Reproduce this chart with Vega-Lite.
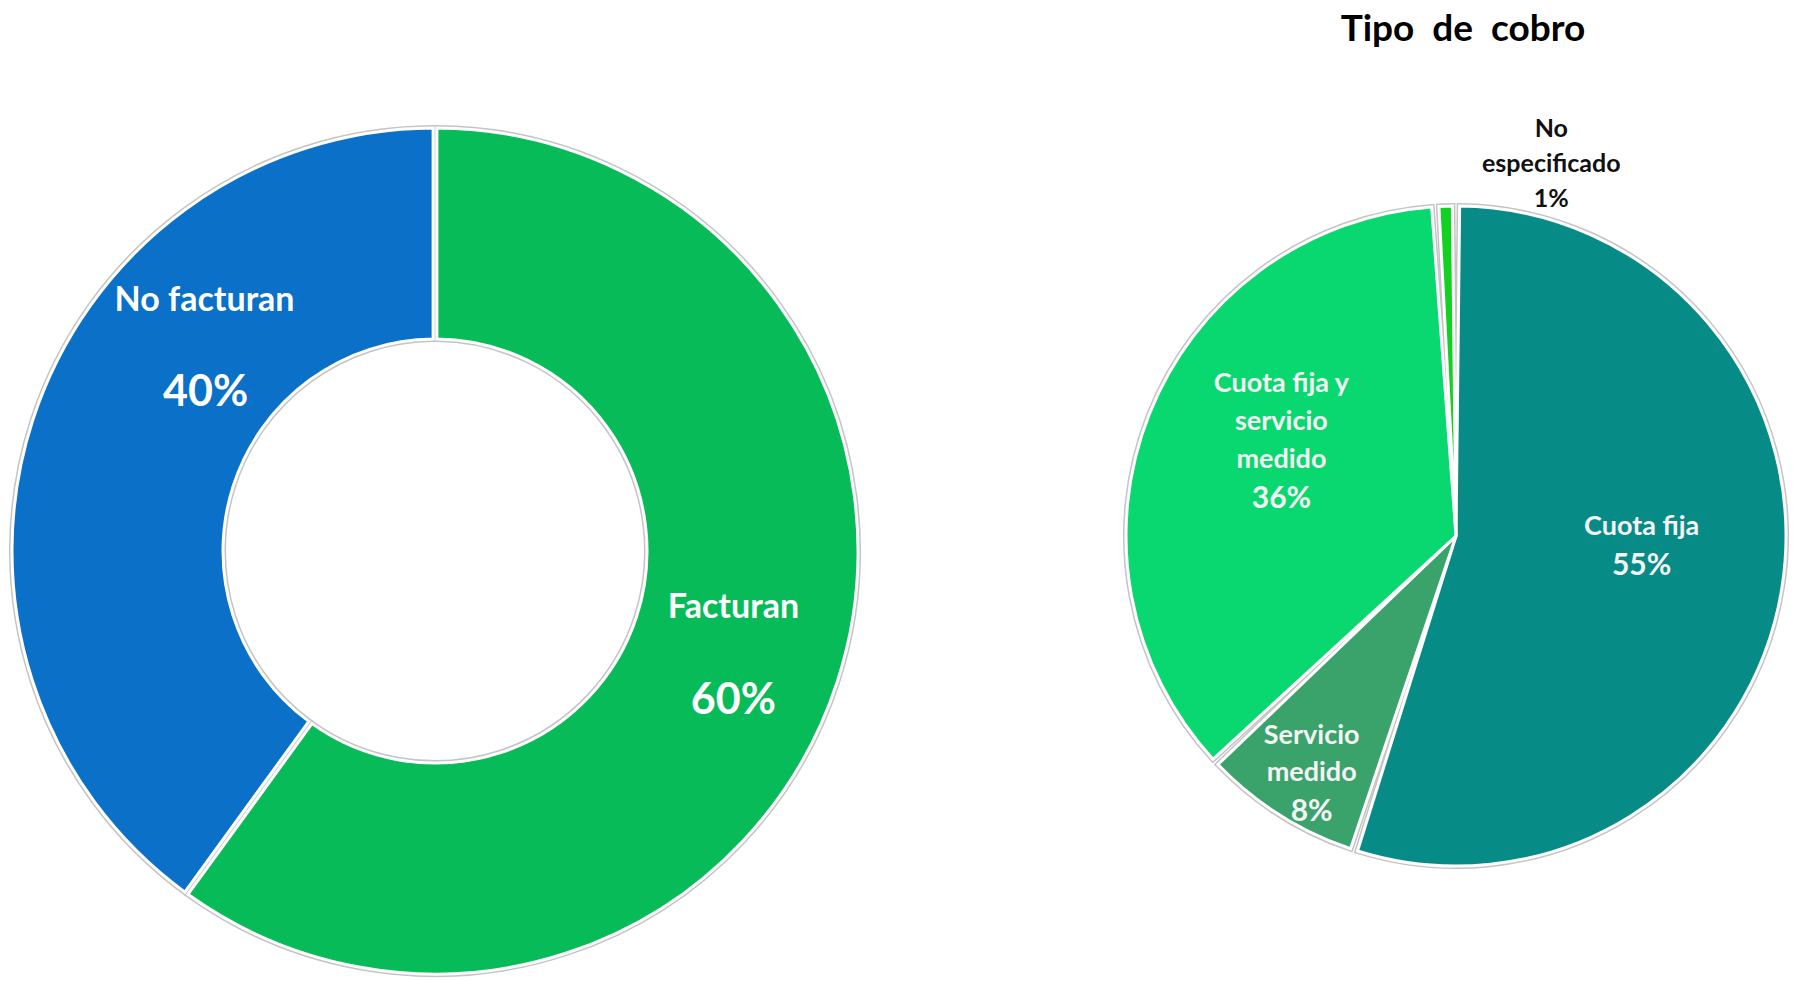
{
  "$schema": "https://vega.github.io/schema/vega-lite/v6.json",
  "padding": {"top": 10, "left": 0, "right": 0, "bottom": 0},
  "background": "#ffffff",
  "spacing": 240,
  "resolve": {"scale": {"color": "independent", "theta": "independent"}},
  "config": {"view": {"stroke": null}, "font": "Lato"},
  "datasets": {
    "facturacion": [
      {"grupo": "Facturan", "valor": 0.60, "orden": 1},
      {"grupo": "No facturan", "valor": 0.40, "orden": 2}
    ],
    "cobro": [
      {"tipo": "Cuota fija", "valor": 0.55, "orden": 1, "etiqueta": "Cuota fija"},
      {"tipo": "Servicio medido", "valor": 0.08, "orden": 2, "etiqueta": "Servicio\nmedido"},
      {"tipo": "Cuota fija y servicio medido", "valor": 0.36, "orden": 3, "etiqueta": "Cuota fija y\nservicio\nmedido"},
      {"tipo": "No especificado", "valor": 0.01, "orden": 4, "etiqueta": "No\nespecificado"}
    ]
  },
  "hconcat": [
    {
      "width": 860,
      "height": 866,
      "title": {"text": " ", "fontSize": 37, "offset": 68},
      "data": {"name": "facturacion"},
      "encoding": {
        "theta": {"field": "valor", "type": "quantitative", "stack": true},
        "order": {"field": "orden", "type": "quantitative"}
      },
      "layer": [
        {
          "mark": {"type": "arc", "outerRadius": 423, "innerRadius": 212, "padAngle": 0.008, "stroke": "#c4c4c4", "strokeWidth": 6},
          "encoding": {"color": {"field": "grupo", "type": "nominal", "scale": {"domain": ["Facturan", "No facturan"], "range": ["#07BC58", "#0A70C8"]}, "legend": null}}
        },
        {
          "mark": {"type": "arc", "outerRadius": 423, "innerRadius": 212, "padAngle": 0.008, "stroke": "#ffffff", "strokeWidth": 3},
          "encoding": {"color": {"field": "grupo", "type": "nominal", "legend": null}}
        },
        {
          "mark": {"type": "text", "radius": 318, "dx": -4, "dy": -41, "fontSize": 34, "fontWeight": "bold", "color": "#ffffff", "align": "center", "baseline": "middle"},
          "encoding": {"detail": {"field": "grupo"}, "text": {"condition": {"test": "datum.grupo === 'Facturan'", "field": "grupo"}, "value": ""}}
        },
        {
          "mark": {"type": "text", "radius": 318, "dx": -4, "dy": 52, "fontSize": 43, "fontWeight": "bold", "color": "#ffffff", "align": "center", "baseline": "middle"},
          "encoding": {"detail": {"field": "grupo"}, "text": {"condition": {"test": "datum.grupo === 'Facturan'", "field": "valor", "type": "quantitative", "format": ".0%"}, "value": ""}}
        },
        {
          "mark": {"type": "text", "radius": 318, "dx": 72, "dy": -152, "fontSize": 34, "fontWeight": "bold", "color": "#ffffff", "align": "center", "baseline": "middle"},
          "encoding": {"detail": {"field": "grupo"}, "text": {"condition": {"test": "datum.grupo === 'No facturan'", "field": "grupo"}, "value": ""}}
        },
        {
          "mark": {"type": "text", "radius": 318, "dx": 73, "dy": -60, "fontSize": 43, "fontWeight": "bold", "color": "#ffffff", "align": "center", "baseline": "middle"},
          "encoding": {"detail": {"field": "grupo"}, "text": {"condition": {"test": "datum.grupo === 'No facturan'", "field": "valor", "type": "quantitative", "format": ".0%"}, "value": ""}}
        }
      ]
    },
    {
      "width": 692,
      "height": 836,
      "title": {"text": "Tipo\u00a0 de\u00a0 cobro", "fontSize": 37, "fontWeight": "bold", "color": "#000000", "offset": 68, "anchor": "middle", "dx": 7},
      "data": {"name": "cobro"},
      "encoding": {
        "theta": {"field": "valor", "type": "quantitative", "stack": true},
        "order": {"field": "orden", "type": "quantitative"}
      },
      "layer": [
        {
          "mark": {"type": "arc", "outerRadius": 330, "padAngle": 0.022, "stroke": "#c4c4c4", "strokeWidth": 6},
          "encoding": {"color": {"field": "tipo", "type": "nominal", "scale": {"domain": ["Cuota fija", "Servicio medido", "Cuota fija y servicio medido", "No especificado"], "range": ["#078B87", "#3AA36C", "#08D86F", "#12D221"]}, "legend": null}}
        },
        {
          "mark": {"type": "arc", "outerRadius": 330, "padAngle": 0.022, "stroke": "#ffffff", "strokeWidth": 3},
          "encoding": {"color": {"field": "tipo", "type": "nominal", "legend": null}}
        },
        {
          "mark": {"type": "text", "radius": 194, "dx": -6, "dy": -39, "fontSize": 27, "lineHeight": 38, "lineBreak": "\n", "fontWeight": "bold", "color": "#f4f4f4", "align": "center", "baseline": "middle"},
          "encoding": {"detail": {"field": "tipo"}, "text": {"condition": {"test": "datum.tipo === 'Cuota fija'", "field": "etiqueta"}, "value": ""}}
        },
        {
          "mark": {"type": "text", "radius": 194, "dx": -6, "dy": 0, "fontSize": 30, "fontWeight": "bold", "color": "#f4f4f4", "align": "center", "baseline": "middle"},
          "encoding": {"detail": {"field": "tipo"}, "text": {"condition": {"test": "datum.tipo === 'Cuota fija'", "field": "valor", "type": "quantitative", "format": ".0%"}, "value": ""}}
        },
        {
          "mark": {"type": "text", "radius": 275, "dx": 3, "dy": -32, "fontSize": 27, "lineHeight": 37, "lineBreak": "\n", "fontWeight": "bold", "color": "#f4f4f4", "align": "center", "baseline": "middle"},
          "encoding": {"detail": {"field": "tipo"}, "text": {"condition": {"test": "datum.tipo === 'Servicio medido'", "field": "etiqueta"}, "value": ""}}
        },
        {
          "mark": {"type": "text", "radius": 275, "dx": 3, "dy": 44, "fontSize": 30, "fontWeight": "bold", "color": "#f4f4f4", "align": "center", "baseline": "middle"},
          "encoding": {"detail": {"field": "tipo"}, "text": {"condition": {"test": "datum.tipo === 'Servicio medido'", "field": "valor", "type": "quantitative", "format": ".0%"}, "value": ""}}
        },
        {
          "mark": {"type": "text", "radius": 191, "dx": 3, "dy": -82, "fontSize": 27, "lineHeight": 38, "lineBreak": "\n", "fontWeight": "bold", "color": "#f4f4f4", "align": "center", "baseline": "middle"},
          "encoding": {"detail": {"field": "tipo"}, "text": {"condition": {"test": "datum.tipo === 'Cuota fija y servicio medido'", "field": "etiqueta"}, "value": ""}}
        },
        {
          "mark": {"type": "text", "radius": 191, "dx": 3, "dy": 33, "fontSize": 30, "fontWeight": "bold", "color": "#f4f4f4", "align": "center", "baseline": "middle"},
          "encoding": {"detail": {"field": "tipo"}, "text": {"condition": {"test": "datum.tipo === 'Cuota fija y servicio medido'", "field": "valor", "type": "quantitative", "format": ".0%"}, "value": ""}}
        },
        {
          "mark": {"type": "text", "radius": 372, "dx": 107, "dy": -35, "fontSize": 25, "lineHeight": 35, "lineBreak": "\n", "fontWeight": "bold", "color": "#111111", "align": "center", "baseline": "middle"},
          "encoding": {"detail": {"field": "tipo"}, "text": {"condition": {"test": "datum.tipo === 'No especificado'", "field": "etiqueta"}, "value": ""}}
        },
        {
          "mark": {"type": "text", "radius": 372, "dx": 107, "dy": 35, "fontSize": 25, "fontWeight": "bold", "color": "#111111", "align": "center", "baseline": "middle"},
          "encoding": {"detail": {"field": "tipo"}, "text": {"condition": {"test": "datum.tipo === 'No especificado'", "field": "valor", "type": "quantitative", "format": ".0%"}, "value": ""}}
        }
      ]
    }
  ]
}
